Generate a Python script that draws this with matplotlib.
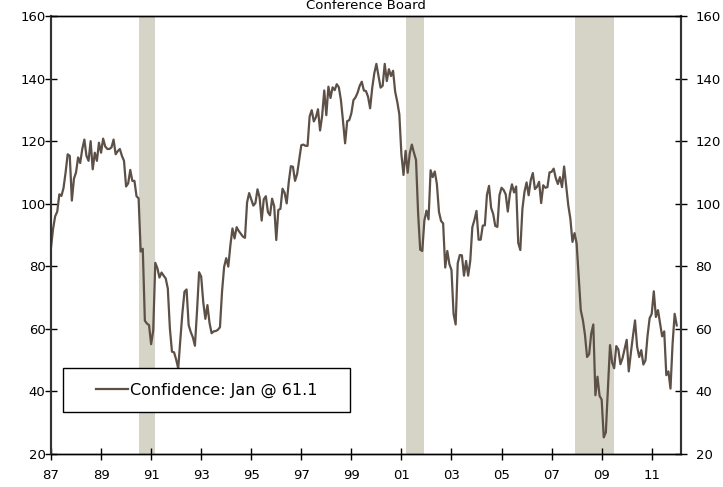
import matplotlib
matplotlib.use("Agg")
import matplotlib.pyplot as plt
from matplotlib.patches import Rectangle
import numpy as np

# Monthly Conference Board consumer confidence, Jan 1987 - Jan 2012
conf_1987 = [86, 92, 96, 97.5, 103, 102.5, 105, 110, 115.8, 115.3, 101, 108]
conf_1988 = [110, 114.8, 113, 117.5, 120.5, 115.3, 113.7, 120, 111, 116.3, 113.7, 119.5]
conf_1989 = [116.3, 120.8, 118.3, 117.5, 117.5, 118, 120.5, 115.8, 116.8, 117.5, 115.3, 113.7]
conf_1990 = [105.5, 106.5, 110.8, 107.3, 107.3, 102.4, 101.7, 84.7, 85.6, 62.6, 61.7, 61.2]
conf_1991 = [55.1, 59.4, 81.1, 79.4, 76.4, 78, 77, 76.1, 72.9, 60.1, 52.7, 52.5]
conf_1992 = [50.2, 47.3, 56.5, 65.1, 71.9, 72.6, 61.2, 59, 57.3, 54.6, 65.6, 78.1]
conf_1993 = [76.7, 68.5, 63.2, 67.6, 61.9, 58.6, 59.2, 59.3, 59.7, 60.5, 71.9, 79.8]
conf_1994 = [82.6, 79.9, 86.7, 92.1, 88.9, 92.5, 91.3, 90.4, 89.5, 89.1, 100.4, 103.4]
conf_1995 = [101.4, 99.4, 100.2, 104.6, 102, 94.6, 101.4, 102.4, 97.3, 96.3, 101.6, 99.2]
conf_1996 = [88.4, 98, 98.4, 104.8, 103.5, 100.1, 107, 112, 111.8, 107.3, 109.5, 114.2]
conf_1997 = [118.7, 118.9, 118.5, 118.5, 127.9, 129.9, 126.3, 127.6, 130.2, 123.4, 128.1, 136.2]
conf_1998 = [128.3, 137.4, 133.8, 137.2, 136.3, 138.2, 137.2, 133.1, 126.4, 119.3, 126.4, 126.7]
conf_1999 = [128.9, 133.1, 134, 135.5, 137.7, 139, 136.2, 136, 134.2, 130.5, 137, 141.7]
conf_2000 = [144.7, 140.8, 137.1, 137.7, 144.7, 139.2, 143, 140.8, 142.5, 135.8, 132.6, 128.6]
conf_2001 = [115.7, 109.2, 116.9, 109.9, 116.1, 118.9, 116.3, 114, 97, 85.3, 84.9, 94.6]
conf_2002 = [97.8, 95, 110.7, 108.5, 110.3, 106.3, 97.4, 94.5, 93.7, 79.6, 84.9, 80.7]
conf_2003 = [78.8, 64.8, 61.4, 81, 83.6, 83.5, 77, 81.7, 77, 81.7, 92.5, 94.8]
conf_2004 = [97.7, 88.5, 88.5, 93, 93.1, 102.8, 105.7, 98.7, 96.7, 92.9, 92.6, 102.7]
conf_2005 = [105.1, 104.4, 103, 97.5, 103.1, 106.2, 103.6, 105.5, 87.5, 85.2, 98.3, 103.8]
conf_2006 = [106.8, 102.7, 107.5, 109.8, 104.7, 105.4, 107, 100.2, 105.9, 105.1, 105.3, 110]
conf_2007 = [110.2, 111.2, 108.2, 106.3, 108.5, 105.3, 111.9, 105.6, 99.5, 95.2, 87.8, 90.6]
conf_2008 = [87.3, 76.4, 65.9, 62.8, 58.1, 51, 51.9, 58.5, 61.4, 38.8, 44.7, 38.6]
conf_2009 = [37.4, 25.3, 26.9, 40.8, 54.8, 49.3, 47.4, 54.5, 53.4, 48.7, 50.6, 53.6]
conf_2010 = [56.5, 46.4, 52.3, 57.7, 62.7, 54.3, 51, 53.2, 48.6, 49.9, 57.8, 63.4]
conf_2011 = [64.8, 72, 63.8, 66, 61.7, 57.6, 59.2, 45.2, 46.4, 40.9, 55.2, 64.8]
conf_2012 = [61.1]

recession_starts = [1990.5, 2001.2, 2007.92]
recession_ends = [1991.17, 2001.92, 2009.5]

tick_years = list(range(1987, 2012, 2))
tick_labels = ["87", "89", "91", "93", "95", "97", "99", "01", "03", "05", "07", "09", "11"]
y_ticks = [20, 40, 60, 80, 100, 120, 140, 160]

values = (conf_1987 + conf_1988 + conf_1989 + conf_1990 + conf_1991 + conf_1992 +
          conf_1993 + conf_1994 + conf_1995 + conf_1996 + conf_1997 + conf_1998 +
          conf_1999 + conf_2000 + conf_2001 + conf_2002 + conf_2003 + conf_2004 +
          conf_2005 + conf_2006 + conf_2007 + conf_2008 + conf_2009 + conf_2010 +
          conf_2011 + conf_2012)
dates = 1987 + np.arange(len(values)) / 12.0

line_color = "#5c5047"
shade_color = "#d6d3c7"
fs = 9.5

fig = plt.figure(figsize=(7.23, 4.87), dpi=100)
ax = fig.add_axes([51/723, 33/487, 630/723, 438/487])

for s, e in zip(recession_starts, recession_ends):
    ax.axvspan(s, e, color=shade_color, lw=0, zorder=0)

ax.plot(dates, values, color=line_color, lw=1.6, zorder=3,
        label="Confidence: Jan @ 61.1")

ax.set_xlim(1987, 2012.17)
ax.set_ylim(20, 160)
ax.set_xticks(tick_years)
ax.set_xticklabels(tick_labels, fontsize=fs)
ax.set_yticks(y_ticks)
ax.set_yticklabels([str(v) for v in y_ticks], fontsize=fs)

ax.tick_params(axis="x", direction="inout", length=8, width=1, pad=7, colors="black")
ax.tick_params(axis="y", direction="inout", length=8, width=1, pad=0)

# right axis with its own label padding
ax2 = ax.twinx()
ax2.set_ylim(20, 160)
ax2.set_yticks(y_ticks)
ax2.set_yticklabels([str(v) for v in y_ticks], fontsize=fs)
ax2.tick_params(axis="y", direction="inout", length=8, width=1, pad=6.5)

for a in (ax, ax2):
    a.spines["left"].set_color("#333333")
    a.spines["left"].set_linewidth(1.5)
    a.spines["right"].set_color("#333333")
    a.spines["right"].set_linewidth(1.5)
    a.spines["top"].set_linewidth(1.0)
    a.spines["bottom"].set_linewidth(1.0)

# legend box
x0, y0 = (63 - 51) / 630, (454 - 412) / 438
w, h = (350 - 63) / 630, 44 / 438
ax.add_patch(Rectangle((x0, y0), w, h, transform=ax.transAxes, fill=True,
                       facecolor="white", edgecolor="black", lw=1.0, zorder=5))
leg = ax.legend(loc="center", bbox_to_anchor=(x0 + w / 2, y0 + h / 2),
                bbox_transform=ax.transAxes, frameon=False, fontsize=11.5,
                handlelength=2.0, handletextpad=0.15)
leg.set_zorder(6)

fig.text(366/723, 1 - 9/487, "Conference Board", ha="center", va="baseline",
         fontsize=fs)

fig.savefig("out.png", dpi=100)
